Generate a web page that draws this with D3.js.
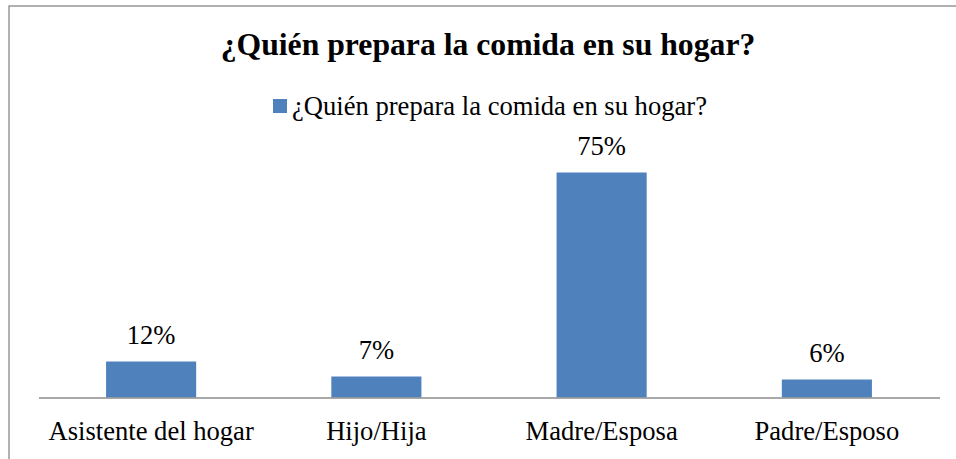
<!DOCTYPE html>
<html lang="es">
<head>
  <meta charset="UTF-8">
  <title>¿Quién prepara la comida en su hogar?</title>
  <style>
    html, body { margin: 0; padding: 0; background: #fff; overflow: hidden; }
    svg { display: block; }
  </style>
</head>
<body>
<svg width="956" height="459"></svg>

<script src="https://cdn.jsdelivr.net/npm/d3@7/dist/d3.min.js"></script>
<script>
  var categories = ['Asistente del hogar', 'Hijo/Hija', 'Madre/Esposa', 'Padre/Esposo'];
  var values = [12, 7, 75, 6];
  var seriesName = '¿Quién prepara la comida en su hogar?';
  var title = '¿Quién prepara la comida en su hogar?';

  var svg = d3.select('svg');
  var barColor = '#4f81bd';
  var serif = '"Liberation Serif"';

  // marco del gráfico (se corta por la derecha y por abajo)
  svg.append('rect')
    .attr('x', 9).attr('y', 6)
    .attr('width', 1000).attr('height', 500)
    .attr('fill', 'none').attr('stroke', '#888').attr('stroke-width', 1.3);

  // título
  svg.append('text')
    .attr('x', 488).attr('y', 55)
    .attr('text-anchor', 'middle')
    .style('font-family', serif)
    .style('font-size', '31.7px').style('font-weight', 'bold')
    .text(title);

  // leyenda
  var legend = svg.append('g').attr('transform', 'translate(273, 99)');
  legend.append('rect').attr('width', 14).attr('height', 14).attr('fill', barColor);
  legend.append('text').attr('x', 19).attr('y', 16)
    .style('font-family', serif)
    .style('font-size', '26.6px').text(seriesName);

  // escalas
  var x = d3.scaleBand().domain(categories).range([38.5, 939.5]).paddingInner(0.6).paddingOuter(0.3);
  var y = d3.scaleLinear().domain([0, 80]).range([397.5, 157.5]);

  var g = svg.append('g');

  // barras
  g.selectAll('.bar').data(values).enter().append('rect')
    .attr('class', 'bar')
    .attr('x', function (d, i) { return x(categories[i]); })
    .attr('y', function (d) { return y(d); })
    .attr('width', x.bandwidth())
    .attr('height', function (d) { return y(0) - y(d); })
    .attr('fill', barColor);

  // etiquetas de datos
  g.selectAll('.lbl').data(values).enter().append('text')
    .attr('class', 'lbl')
    .attr('x', function (d, i) { return x(categories[i]) + x.bandwidth() / 2; })
    .attr('y', function (d) { return y(d) - 17.5; })
    .attr('text-anchor', 'middle')
    .style('font-family', serif)
    .style('font-size', '26.6px')
    .text(function (d) { return d + '%'; });

  // eje x
  var axis = g.append('g').attr('transform', 'translate(0,' + y(0) + ')')
    .call(d3.axisBottom(x).tickSize(0).tickPadding(0));
  axis.select('.domain').attr('stroke', '#8c8c8c').attr('stroke-width', 1.5);
  axis.selectAll('.tick text')
    .style('font-family', serif)
    .style('font-size', '26.6px')
    .attr('fill', '#000')
    .attr('dy', 0).attr('y', 42);
</script>
</body>
</html>
